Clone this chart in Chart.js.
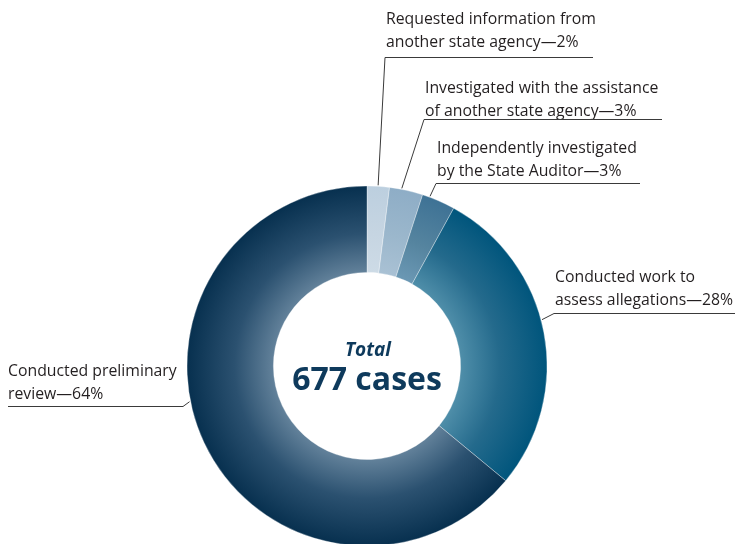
<!DOCTYPE html>
<html>
<head>
<meta charset="utf-8">
<script src="https://cdn.jsdelivr.net/npm/chart.js@4.4.1/dist/chart.umd.min.js"></script>
<style>
  html, body { margin: 0; padding: 0; background: #fff; overflow: hidden; }
  #wrap { width: 737px; height: 544px; position: relative; }
</style>
</head>
<body>
<div id="wrap"><canvas id="cases"></canvas></div>
<script>
// share of the 677 cases, clockwise from 12 o'clock
const categories = [
  ["Requested information from", "another state agency\u20142%"],
  ["Investigated with the assistance", "of another state agency\u20143%"],
  ["Independently investigated", "by the State Auditor\u20143%"],
  ["Conducted work to", "assess allegations\u201428%"],
  ["Conducted preliminary", "review\u201464%"]
];
const shares = [2, 3, 3, 28, 64];
const totalTitle = "Total";
const totalText = "677 cases";

// inner -> outer colours of each slice
const inner = ["#cddbe6", "#a9c1d4", "#6b98b4", "#4f8ea9", "#62819a"];
const mid   = ["#c6d5e2", "#9bb7cc", "#55849f", "#246a8c", "#2b5170"];
const outer = ["#bccfdf", "#8eadc6", "#3e7295", "#00557c", "#07304f"];

// label placement: text x, first baseline, underline y, underline end, where the leader hits the slice
const labelPos = [
  { x: 386, y: 24, lineY: 57, lineEnd: 593, frac: 0.49 },
  { x: 425, y: 93, lineY: 119, lineEnd: 662, frac: 0.36 },
  { x: 437, y: 153, lineY: 183, lineEnd: 640, frac: 0.22 },
  { x: 555, y: 282, lineY: 313, lineEnd: 735, frac: 0.46 },
  { x: 8, y: 376, lineY: 406, lineEnd: 183, frac: 0.56, left: true }
];

const textFont = "15.8px 'Open Sans'";

function sliceFill(c) {
  const i = c.dataIndex;
  const chart = c.chart;
  const area = chart.chartArea;
  if (!area) return outer[i];
  const cx = (area.left + area.right) / 2;
  const cy = (area.top + area.bottom) / 2;
  const r = 180;
  const g = chart.ctx.createRadialGradient(cx, cy, r * 0.52, cx, cy, r);
  g.addColorStop(0, inner[i]);
  g.addColorStop(0.45, mid[i]);
  g.addColorStop(1, outer[i]);
  return g;
}

const labelPlugin = {
  id: "labels",
  afterDraw(chart) {
    const ctx = chart.ctx;
    const arcs = chart.getDatasetMeta(0).data;
    ctx.save();
    ctx.font = textFont;
    ctx.fillStyle = "#231f20";
    ctx.textBaseline = "alphabetic";
    ctx.strokeStyle = "#3a3a3a";
    ctx.lineWidth = 1;
    labelPos.forEach((p, i) => {
      categories[i].forEach((t, k) => ctx.fillText(t, p.x, p.y + k * 23));
      const a = arcs[i];
      const ang = a.startAngle + (a.endAngle - a.startAngle) * p.frac;
      const ex = a.x + Math.cos(ang) * (a.outerRadius + 1);
      const ey = a.y + Math.sin(ang) * (a.outerRadius + 1);
      ctx.beginPath();
      if (p.left) {
        ctx.moveTo(p.x, p.lineY + 0.5);
        ctx.lineTo(p.lineEnd, p.lineY + 0.5);
        ctx.lineTo(ex, ey);
      } else {
        ctx.moveTo(p.lineEnd, p.lineY + 0.5);
        ctx.lineTo(p.x - 1, p.lineY + 0.5);
        ctx.lineTo(ex, ey);
      }
      ctx.stroke();
    });
    // centre total
    const cx = arcs[0].x, cy = arcs[0].y;
    ctx.fillStyle = "#0e3a5c";
    ctx.textAlign = "center";
    ctx.font = "italic bold 19px 'Open Sans'";
    ctx.fillText(totalTitle, cx + 1, cy - 10);
    ctx.font = "bold 32px 'Open Sans'";
    ctx.fillText(totalText, cx, cy + 24);
    ctx.restore();
  }
};

new Chart(document.getElementById("cases").getContext("2d"), {
  type: "doughnut",
  data: {
    labels: categories.map(c => c.join(" ")),
    datasets: [{
      data: shares,
      backgroundColor: sliceFill,
      borderColor: "rgba(255,255,255,0.55)",
      borderWidth: 0.6
    }]
  },
  options: {
    responsive: true,
    maintainAspectRatio: false,
    animation: false,
    radius: 180,
    cutout: "52%",
    layout: { padding: { left: 0, right: 3, top: 188, bottom: 0 } },
    plugins: { legend: { display: false }, tooltip: { enabled: false } }
  },
  plugins: [labelPlugin]
});
</script>
</body>
</html>
